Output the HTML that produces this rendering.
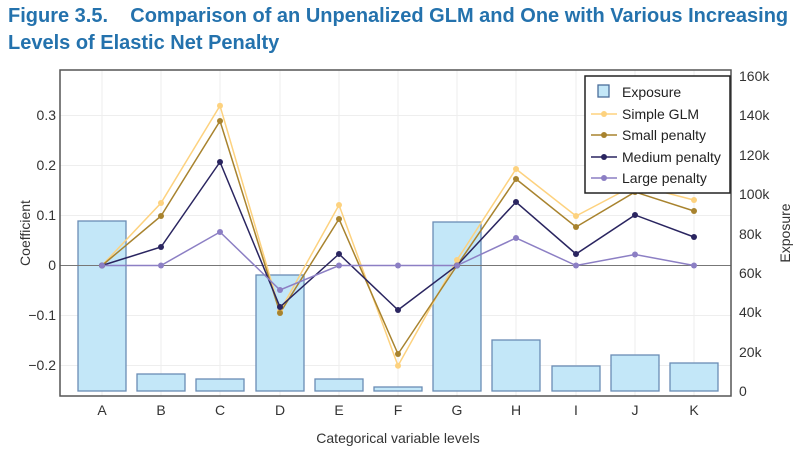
<!DOCTYPE html>
<html><head><meta charset="utf-8"><style>
body{margin:0;background:#fff;width:800px;height:455px;overflow:hidden;font-family:"Liberation Sans",sans-serif}
.t{position:absolute;left:8px;top:3px;color:#2472ad;font-weight:bold;font-size:20px;line-height:27px}
</style></head><body>
<div class="t">Figure 3.5.&nbsp;&nbsp;&nbsp;&nbsp;Comparison of an Unpenalized GLM and One with Various Increasing<br>Levels of Elastic Net Penalty</div>
<svg width="800" height="455" style="position:absolute;left:0;top:0" font-family="Liberation Sans, sans-serif">
<g stroke="#eee" stroke-width="1">
<line x1="60" x2="731" y1="115.5" y2="115.5"/><line x1="60" x2="731" y1="165.5" y2="165.5"/><line x1="60" x2="731" y1="215.5" y2="215.5"/><line x1="60" x2="731" y1="315.5" y2="315.5"/><line x1="60" x2="731" y1="365.5" y2="365.5"/>
<line x1="102" x2="102" y1="70" y2="396"/><line x1="161" x2="161" y1="70" y2="396"/><line x1="220" x2="220" y1="70" y2="396"/><line x1="280" x2="280" y1="70" y2="396"/><line x1="339" x2="339" y1="70" y2="396"/><line x1="398" x2="398" y1="70" y2="396"/><line x1="457" x2="457" y1="70" y2="396"/><line x1="516" x2="516" y1="70" y2="396"/><line x1="576" x2="576" y1="70" y2="396"/><line x1="635" x2="635" y1="70" y2="396"/><line x1="694" x2="694" y1="70" y2="396"/>
</g>
<g fill="#c3e7f8" stroke="#6a8db5" stroke-width="1.3">
<rect x="78" y="221" width="48" height="170"/><rect x="137" y="374" width="48" height="17"/><rect x="196" y="379" width="48" height="12"/><rect x="256" y="275" width="48" height="116"/><rect x="315" y="379" width="48" height="12"/><rect x="374" y="387" width="48" height="4"/><rect x="433" y="222" width="48" height="169"/><rect x="492" y="340" width="48" height="51"/><rect x="552" y="366" width="48" height="25"/><rect x="611" y="355" width="48" height="36"/><rect x="670" y="363" width="48" height="28"/>
</g>
<line x1="60" x2="731" y1="265.5" y2="265.5" stroke="#777" stroke-width="1"/>
<g fill="none" stroke-width="1.5">
<polyline stroke="#fdd27f" points="102,265.5 161,203 220,105.7 280,311 339,205 398,365.7 457,260 516,169 576,216 635,185 694,200"/>
<polyline stroke="#a8832e" points="102,265.5 161,216 220,121 280,313 339,219 398,354 457,265.5 516,179 576,227 635,192 694,211"/>
<polyline stroke="#2a2560" points="102,265.5 161,247 220,162 280,307 339,254 398,310 457,265.5 516,202 576,254 635,215 694,237"/>
<polyline stroke="#8c7fc4" points="102,265.5 161,265.5 220,232 280,290 339,265.5 398,265.5 457,265.5 516,238 576,265.5 635,254.5 694,265.5"/>
</g>
<g fill="#fdd27f"><circle cx="102" cy="265.5" r="3"/><circle cx="161" cy="203" r="3"/><circle cx="220" cy="105.7" r="3"/><circle cx="280" cy="311" r="3"/><circle cx="339" cy="205" r="3"/><circle cx="398" cy="365.7" r="3"/><circle cx="457" cy="260" r="3"/><circle cx="516" cy="169" r="3"/><circle cx="576" cy="216" r="3"/><circle cx="635" cy="185" r="3"/><circle cx="694" cy="200" r="3"/></g>
<g fill="#a8832e"><circle cx="102" cy="265.5" r="3"/><circle cx="161" cy="216" r="3"/><circle cx="220" cy="121" r="3"/><circle cx="280" cy="313" r="3"/><circle cx="339" cy="219" r="3"/><circle cx="398" cy="354" r="3"/><circle cx="457" cy="265.5" r="3"/><circle cx="516" cy="179" r="3"/><circle cx="576" cy="227" r="3"/><circle cx="635" cy="192" r="3"/><circle cx="694" cy="211" r="3"/></g>
<g fill="#2a2560"><circle cx="102" cy="265.5" r="3"/><circle cx="161" cy="247" r="3"/><circle cx="220" cy="162" r="3"/><circle cx="280" cy="307" r="3"/><circle cx="339" cy="254" r="3"/><circle cx="398" cy="310" r="3"/><circle cx="457" cy="265.5" r="3"/><circle cx="516" cy="202" r="3"/><circle cx="576" cy="254" r="3"/><circle cx="635" cy="215" r="3"/><circle cx="694" cy="237" r="3"/></g>
<g fill="#8c7fc4"><circle cx="102" cy="265.5" r="3"/><circle cx="161" cy="265.5" r="3"/><circle cx="220" cy="232" r="3"/><circle cx="280" cy="290" r="3"/><circle cx="339" cy="265.5" r="3"/><circle cx="398" cy="265.5" r="3"/><circle cx="457" cy="265.5" r="3"/><circle cx="516" cy="238" r="3"/><circle cx="576" cy="265.5" r="3"/><circle cx="635" cy="254.5" r="3"/><circle cx="694" cy="265.5" r="3"/></g>
<rect x="60" y="70" width="671" height="326" fill="none" stroke="#555" stroke-width="1.5"/>
<g font-size="14" fill="#333" text-anchor="end">
<text x="56" y="120">0.3</text><text x="56" y="170">0.2</text><text x="56" y="220">0.1</text><text x="56" y="270">0</text><text x="56" y="320">−0.1</text><text x="56" y="370">−0.2</text>
</g>
<g font-size="14" fill="#333">
<text x="739" y="81">160k</text><text x="739" y="120">140k</text><text x="739" y="160">120k</text><text x="739" y="199">100k</text><text x="739" y="239">80k</text><text x="739" y="278">60k</text><text x="739" y="317">40k</text><text x="739" y="357">20k</text><text x="739" y="396">0</text>
</g>
<g font-size="14" fill="#333" text-anchor="middle">
<text x="102" y="415">A</text><text x="161" y="415">B</text><text x="220" y="415">C</text><text x="280" y="415">D</text><text x="339" y="415">E</text><text x="398" y="415">F</text><text x="457" y="415">G</text><text x="516" y="415">H</text><text x="576" y="415">I</text><text x="635" y="415">J</text><text x="694" y="415">K</text>
<text x="398" y="443">Categorical variable levels</text>
<text transform="translate(30,233) rotate(-90)">Coefficient</text>
<text transform="translate(790,233) rotate(-90)">Exposure</text>
</g>
<rect x="585" y="76" width="145" height="117" fill="#fff" stroke="#222" stroke-width="1.5"/>
<rect x="598" y="85" width="11" height="12" fill="#c3e7f8" stroke="#4a6d9a" stroke-width="1.3"/>
<g stroke-width="1.5"><line x1="591" x2="617" y1="114" y2="114" stroke="#fdd27f"/><line x1="591" x2="617" y1="135" y2="135" stroke="#a8832e"/><line x1="591" x2="617" y1="157" y2="157" stroke="#2a2560"/><line x1="591" x2="617" y1="178" y2="178" stroke="#8c7fc4"/></g>
<circle cx="604" cy="114" r="3" fill="#fdd27f"/><circle cx="604" cy="135" r="3" fill="#a8832e"/><circle cx="604" cy="157" r="3" fill="#2a2560"/><circle cx="604" cy="178" r="3" fill="#8c7fc4"/>
<g font-size="14" fill="#222"><text x="622" y="97">Exposure</text><text x="622" y="119">Simple GLM</text><text x="622" y="140">Small penalty</text><text x="622" y="162">Medium penalty</text><text x="622" y="183">Large penalty</text></g>
</svg>
</body></html>
